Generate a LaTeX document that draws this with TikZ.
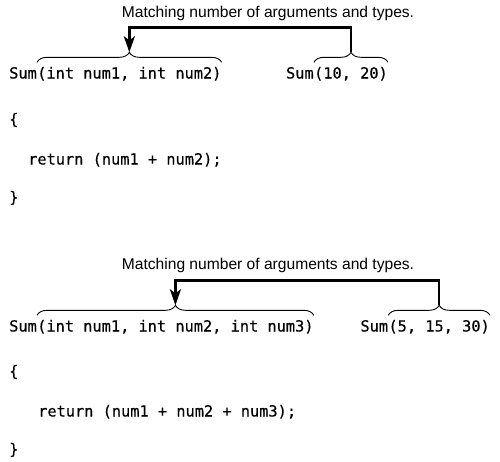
\documentclass[tikz,border=0pt]{standalone}
\usepackage{fontspec}
\setmainfont{Liberation Sans}
\newfontfamily\codefont{DejaVu Sans Mono}[FakeBold=0.4]
\usetikzlibrary{positioning,calc,arrows.meta,decorations.pathreplacing}

\begin{document}
\begin{tikzpicture}[x=1pt,y=-1pt]
\tikzstyle{code}=[font=\codefont\fontsize{15.3}{18}\selectfont,inner sep=0pt,text height=12pt,text depth=3pt]
\tikzstyle{note}=[font=\fontsize{15.6}{18}\selectfont,inner sep=0pt]
\tikzstyle{brc}=[decorate,decoration={brace,amplitude=10pt},line width=0.9pt]
\tikzstyle{match}=[line width=2.4pt,-{Stealth[length=16pt,width=11pt,inset=4pt]}]

\useasboundingbox (0,0) rectangle (500,461);

   % two parameters
   \path (9,74) node[code,anchor=west] (fnA) {Sum}   (388,74) node[code,anchor=east] (callA) {(10, 20)};
    \node[code,right = 0pt of fnA] (argsA) {(int num1, int num2)};
    \node[code,left = 0pt of callA] (cfnA) {Sum};
    \node[note] (labA) at (268,13) {Matching number of arguments and types.};

    \path (9,120) node[code,anchor=west] (openA) {\{}
      (28,160) node[code,anchor=west] (retA) {return (num1 + num2);}
      (9,198) node[code,anchor=west] (closeA) {\}};

    \draw[brc] ([yshift=4pt]argsA.north west)--([yshift=4pt]argsA.north east);
    \draw[brc] ([yshift=4pt]callA.north west)--([yshift=4pt]callA.north east);
    \coordinate (tA) at ([yshift=14pt]argsA.north);
    \coordinate (uA) at ([yshift=14pt]callA.north);
    \draw[match] (uA) -- ++(0,-25) -| (tA);

   % three parameters
   \path (9,327) node[code,anchor=west] (fnB) {Sum}   (490,327) node[code,anchor=east] (callB) {(5, 15, 30)};
    \node[code,right = 0pt of fnB] (argsB) {(int num1, int num2, int num3)};
    \node[code,left = 0pt of callB] (cfnB) {Sum};
    \node[note] (labB) at (268,265) {Matching number of arguments and types.};

    \path (9,372) node[code,anchor=west] (openB) {\{}
      (38,412) node[code,anchor=west] (retB) {return (num1 + num2 + num3);}
      (9,450) node[code,anchor=west] (closeB) {\}};

    \draw[brc] ([yshift=4pt]argsB.north west)--([yshift=4pt]argsB.north east);
    \draw[brc] ([yshift=4pt]callB.north west)--([yshift=4pt]callB.north east);
    \coordinate (tB) at ([yshift=14pt]argsB.north);
    \coordinate (uB) at ([yshift=14pt]callB.north);
    \draw[match] (uB) -- ++(0,-25) -| (tB);
\end{tikzpicture}
\end{document}
